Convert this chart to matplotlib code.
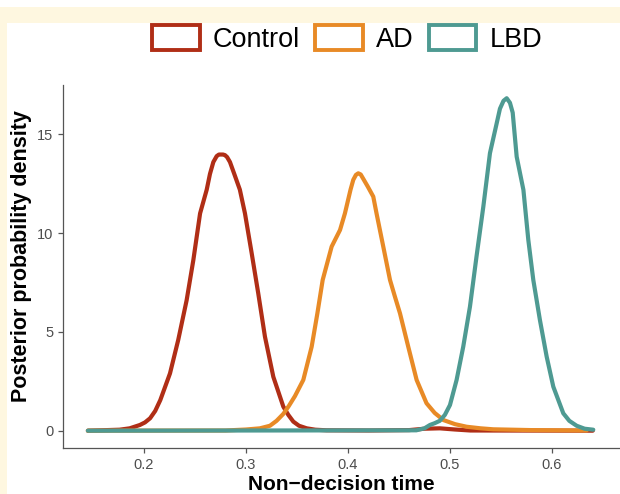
import numpy as np
import matplotlib
matplotlib.use('Agg')
import matplotlib.pyplot as plt
from matplotlib.patches import Patch, Rectangle

plt.rcParams['font.family'] = ['Liberation Sans', 'DejaVu Sans']

# posterior densities
x_control = [0.145, 0.176, 0.186, 0.196, 0.201, 0.206, 0.211, 0.216, 0.2255, 0.2336, 0.2418,
             0.2484, 0.255, 0.2615, 0.2647, 0.268, 0.2713, 0.2735, 0.2775, 0.2794, 0.2815,
             0.2843, 0.2885, 0.294, 0.299, 0.3056, 0.312, 0.3186, 0.3268, 0.3366, 0.3415,
             0.3464, 0.352, 0.3595, 0.368, 0.379, 0.42, 0.46, 0.475, 0.49, 0.505, 0.52, 0.64]
d_control = [0, 0.05, 0.12, 0.29, 0.42, 0.63, 1.0, 1.55, 2.9, 4.6, 6.6,
             8.64, 11.0, 12.2, 13.0, 13.6, 13.9, 13.98, 13.98, 13.95, 13.85,
             13.6, 13.0, 12.2, 11.0, 8.98, 6.96, 4.76, 2.73, 1.22, 0.8,
             0.46, 0.25, 0.12, 0.05, 0.02, 0.01, 0.03, 0.1, 0.12, 0.06, 0.01, 0]

x_ad = [0.145, 0.28, 0.3, 0.3137, 0.3235, 0.33, 0.3366, 0.342, 0.348, 0.3562, 0.3644, 0.37,
        0.3752, 0.384, 0.3922, 0.397, 0.4025, 0.4052, 0.4078, 0.4101, 0.4125, 0.415, 0.4195,
        0.4248, 0.428, 0.4346, 0.4412, 0.446, 0.451, 0.4591, 0.4673, 0.477, 0.485, 0.4935,
        0.505, 0.5163, 0.53, 0.5425, 0.58, 0.634]
d_ad = [0, 0.01, 0.06, 0.12, 0.25, 0.5, 0.85, 1.25, 1.75, 2.57, 4.25, 5.94,
        7.63, 9.32, 10.16, 11.0, 12.2, 12.7, 12.95, 13.03, 12.97, 12.75, 12.35,
        11.85, 11.0, 9.32, 7.63, 6.79, 5.94, 4.25, 2.57, 1.39, 0.9, 0.54,
        0.33, 0.2, 0.12, 0.07, 0.03, 0.01]

x_lbd = [0.145, 0.467, 0.475, 0.4804, 0.485, 0.49, 0.495, 0.5, 0.5065, 0.513, 0.5196, 0.526,
         0.5327, 0.5392, 0.5458, 0.549, 0.5525, 0.5556, 0.5588, 0.5615, 0.5654, 0.572, 0.5768,
         0.5817, 0.5882, 0.5948, 0.6013, 0.6111, 0.617, 0.6242, 0.632, 0.6405]
d_lbd = [0, 0.02, 0.12, 0.29, 0.38, 0.5, 0.8, 1.3, 2.57, 4.25, 6.28, 8.81,
         11.34, 14.05, 15.56, 16.3, 16.7, 16.83, 16.6, 16.1, 13.87, 12.19, 9.66,
         7.63, 5.6, 3.75, 2.23, 0.88, 0.5, 0.25, 0.1, 0.05]

groups = ['Control', 'AD', 'LBD']
colors = ['#B02E16', '#E88A26', '#4E9A92']

fig = plt.figure(figsize=(6.2, 4.94), dpi=100)
W, H = 620, 494
cream = '#FEF7E0'
# cream frame strips
fig.patches.append(Rectangle((0, 1 - 23 / H), 1, 16 / H, transform=fig.transFigure,
                             facecolor=cream, edgecolor='none', zorder=0))
fig.patches.append(Rectangle((0, 0), 7 / W, 1 - 23 / H, transform=fig.transFigure,
                             facecolor=cream, edgecolor='none', zorder=0))

ax = fig.add_axes([63 / W, 1 - 448 / H, (W - 63) / W, (448 - 85) / H])
for xs, ds, c in zip([x_control, x_ad, x_lbd], [d_control, d_ad, d_lbd], colors):
    ax.plot(xs, ds, color=c, lw=3.0, solid_joinstyle='round', solid_capstyle='round')

ax.set_xlim(0.1206, 0.6667)
ax.set_ylim(-0.876, 17.5)
ax.set_xticks([0.2, 0.3, 0.4, 0.5, 0.6])
ax.set_xticklabels(['0.2', '0.3', '0.4', '0.5', '0.6'])
ax.set_yticks([0, 5, 10, 15])
ax.spines['top'].set_visible(False)
ax.spines['right'].set_visible(False)
for s in ['left', 'bottom']:
    ax.spines[s].set_color('#555555')
    ax.spines[s].set_linewidth(0.9)
ax.tick_params(colors='#555555', labelcolor='#4D4D4D', labelsize=10.5, length=3.5, width=0.9)
ax.set_xlabel('Non\u2212decision time', fontsize=15, fontweight='bold', labelpad=2)
ax.set_ylabel('Posterior probability density', fontsize=15.5, fontweight='bold',
              va='center', ha='center')
ax.yaxis.set_label_coords(-0.074, 0.53)

handles = [Patch(facecolor='white', edgecolor=c, linewidth=2.8) for c in colors]
fig.legend(handles, groups, loc='center', bbox_to_anchor=(0.56, 1 - 39 / H), ncol=3,
           frameon=False, fontsize=19.5, handlelength=1.75, handleheight=1.0,
           handletextpad=0.5, columnspacing=0.55)

fig.savefig('out.png', dpi=100)
